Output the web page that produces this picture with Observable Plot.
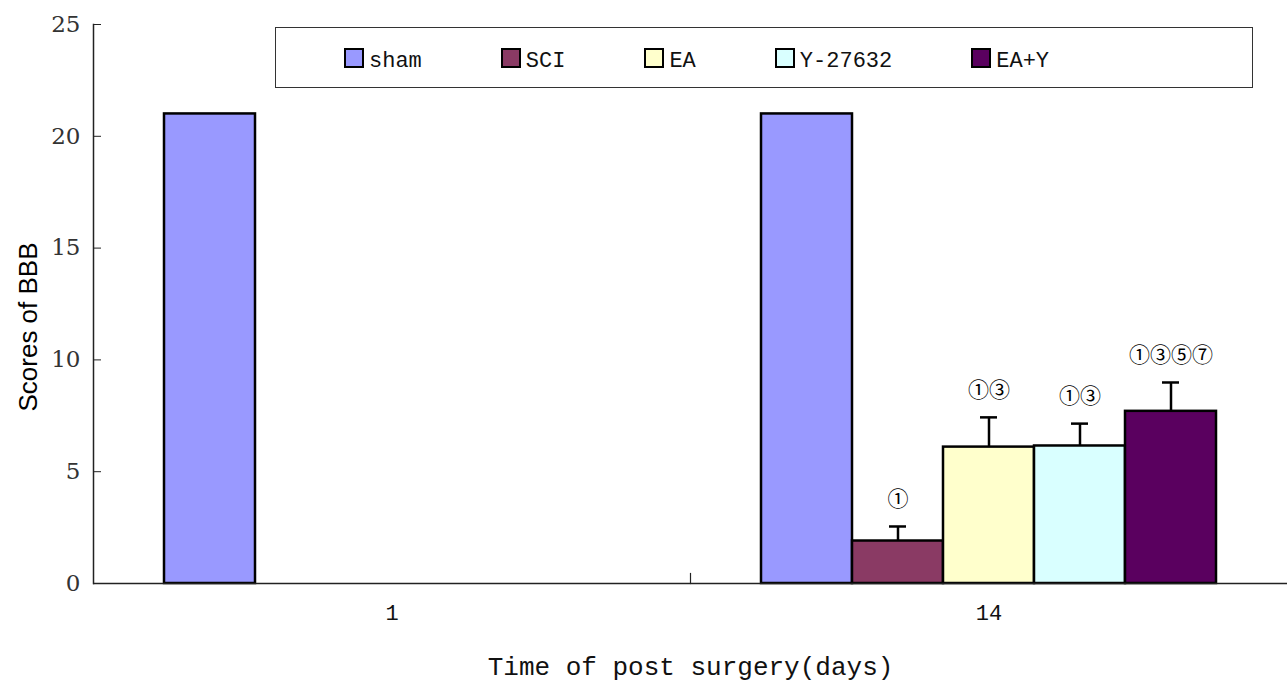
<!DOCTYPE html>
<html>
<head>
<meta charset="utf-8">
<script src="https://cdn.jsdelivr.net/npm/d3@7"></script>
<script src="https://cdn.jsdelivr.net/npm/@observablehq/plot@0.6"></script>
<style>
  html, body { margin: 0; padding: 0; background: #fff; }
  #wrap { position: relative; width: 1287px; height: 685px; }
  #legend {
    position: absolute; left: 275px; top: 27px; width: 978px; height: 61px;
    border: 1.5px solid #333; box-sizing: border-box;
    display: flex; align-items: center; gap: 79px; padding-left: 68px;
    font-family: "Liberation Mono", monospace; font-size: 22px; color: #111;
  }
  .item { display: flex; align-items: center; gap: 5px; }
  .item span { position: relative; top: 4px; }
  .sw { width: 16px; height: 16px; border: 2px solid #000; }
</style>
</head>
<body>
<div id="wrap"></div>
<script>
const days = ["1", "14"];
const groups = ["sham", "SCI", "EA", "Y-27632", "EA+Y"];
const colors = ["#9999ff", "#8a3a64", "#ffffcc", "#d9ffff", "#5a005f"];
const day1Means = [21];            // only sham measured on day 1
const day14Means = [21, 1.9, 6.1, 6.15, 7.7];
const day14SD = [0, 0.65, 1.33, 1.0, 1.29];
const day14Notes = ["", "①", "①③", "①③", "①③⑤⑦"];
const yTicks = [0, 5, 10, 15, 20, 25];
const xTitle = "Time of post surgery(days)";
const yTitle = "Scores of BBB";

const rows = [
  ...day1Means.map((m, i) => ({day: days[0], group: groups[i], mean: m, sd: 0, note: ""})),
  ...day14Means.map((m, i) => ({day: days[1], group: groups[i], mean: m, sd: day14SD[i], note: day14Notes[i]}))
];
const errRows = rows.filter(d => d.sd > 0);

const W = 1287, H = 685, mL = 93, mR = 0, mT = 24, mB = 102;
const plotH = H - mT - mB;

const chart = Plot.plot({
  width: W, height: H,
  marginLeft: mL, marginRight: mR, marginTop: mT, marginBottom: mB,
  style: {background: "#fff", overflow: "visible"},
  fx: {domain: days, padding: 0},
  x: {domain: groups, paddingInner: 0, paddingOuter: 0.75, axis: null},
  y: {domain: [0, 25], axis: null},
  color: {domain: groups, range: colors},
  marks: [
    Plot.barY(rows, {fx: "day", x: "group", y: "mean", fill: "group", stroke: "#000", strokeWidth: 2.5}),
    Plot.ruleX(errRows, {fx: "day", x: "group", y1: "mean", y2: d => d.mean + d.sd, stroke: "#000", strokeWidth: 2.5}),
    Plot.tickY(errRows, {fx: "day", x: "group", y: d => d.mean + d.sd, stroke: "#000", strokeWidth: 2.5, inset: 37}),
    Plot.text(errRows, {fx: "day", x: "group", y: d => d.mean + d.sd, text: "note", dy: -27,
      fontSize: 21, fontFamily: "Noto Sans CJK SC", fill: "#000"}),
    Plot.ruleY([0], {stroke: "#222", strokeWidth: 1.5}),
    Plot.frame({anchor: "left", facetAnchor: "left", stroke: "#222", strokeWidth: 1.5}),
    Plot.frame({anchor: "left", facetAnchor: "right", stroke: "#222", strokeWidth: 1.2, insetTop: plotH - 10}),
    Plot.axisY({ticks: yTicks, tickSize: 8, dx: 8, tickFormat: () => "", label: null, stroke: "#222"}),
    Plot.axisY({ticks: yTicks, tickSize: 0, tickPadding: 13, label: null,
      fontSize: 23, fontFamily: "DejaVu Serif", fill: "#333"}),
    Plot.text([yTitle], {frameAnchor: "left", facetAnchor: "left", textAnchor: "middle", rotate: -90, dx: -65, dy: 23,
      fontSize: 26, fontFamily: "Liberation Sans", fill: "#000"}),
    Plot.axisFx({anchor: "bottom", tickSize: 0, tickPadding: 21, label: null,
      fontSize: 22, fontFamily: "Liberation Mono", fill: "#111"}),
    Plot.axisFx({anchor: "bottom", tickSize: 0, tickFormat: () => "", label: xTitle, labelAnchor: "center",
      labelOffset: 91, fontSize: 26, fontFamily: "Liberation Mono", fill: "#111"})
  ]
});

const wrap = document.getElementById("wrap");
wrap.appendChild(chart);

const legend = document.createElement("div");
legend.id = "legend";
groups.forEach((g, i) => {
  const it = document.createElement("div");
  it.className = "item";
  const sw = document.createElement("div");
  sw.className = "sw";
  sw.style.background = colors[i];
  const lb = document.createElement("span");
  lb.textContent = g;
  it.appendChild(sw); it.appendChild(lb);
  legend.appendChild(it);
});
wrap.appendChild(legend);
</script>
</body>
</html>
